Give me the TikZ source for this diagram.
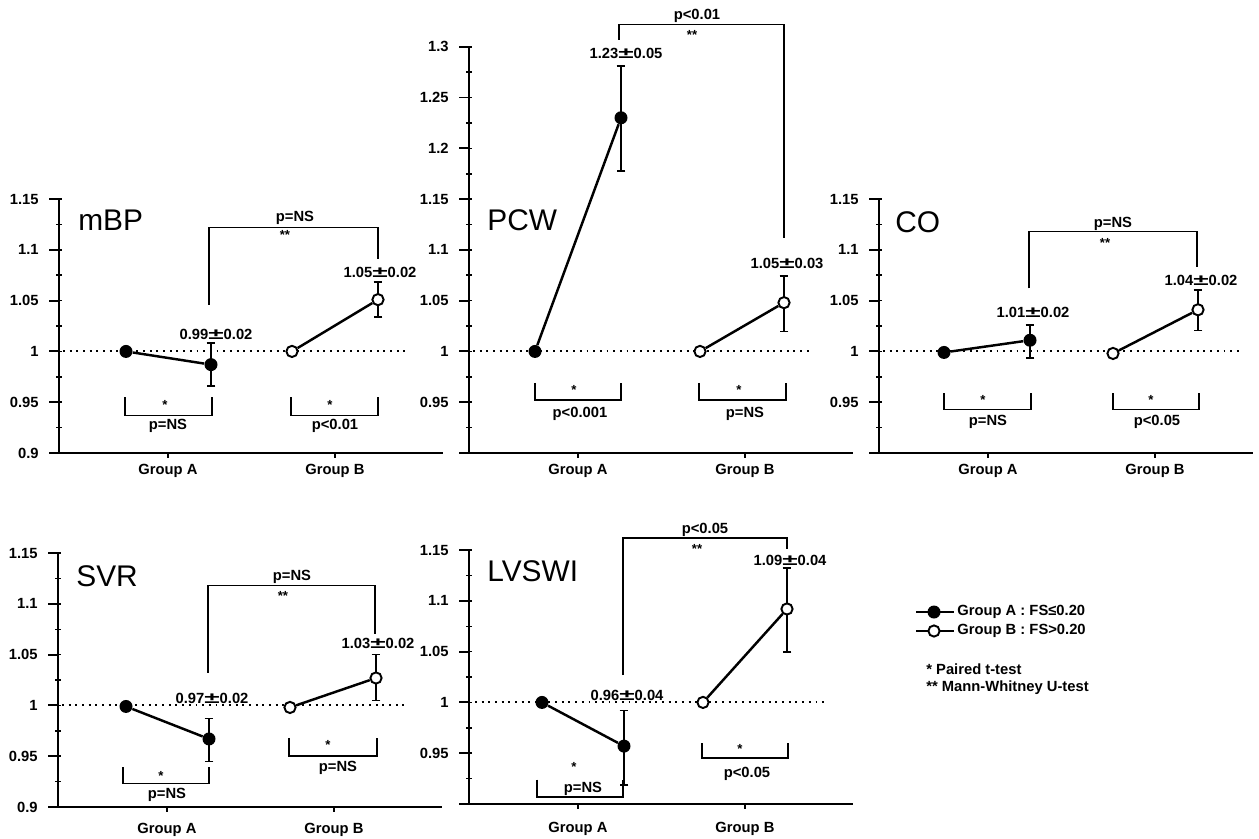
\documentclass[tikz,border=0pt]{standalone}
\usepackage{fontspec}
\setmainfont{Liberation Sans}
\usetikzlibrary{arrows.meta}

\newcommand{\pmwide}{\scalebox{1.9}[1.05]{±}}

% axes of one panel: #1 = number of minor steps, #2 = x-axis length, #3 = labelled values
\newcommand{\drawaxes}[3]{%
  \draw[axisline] (-10,0.9) -- (#2,0.9);
  \draw[axisline] (0,0.9) -- (0,0.9+0.025*#1);
  \foreach \k in {1,...,#1} \draw[minortick] (-3,0.9+0.025*\k) -- (3,0.9+0.025*\k);
  \foreach \v in {#3} {\draw[axisline] (-10,\v) -- (0,\v); \node[ticklbl] at (-20,\v) {\v};}
  \draw[axisline] (109,0.9) -- (109,0.895) (276,0.9) -- (276,0.895);
}

\tikzset{
  panel/.style={shift={#1}, y=20.32cm, yshift=-18.288cm},
  axisline/.style={line width=1.1pt},
  minortick/.style={line width=0.9pt},
  dataline/.style={line width=1.4pt},
  refline/.style={line width=1.1pt, dash pattern=on 1.1pt off 2.7pt},
  errbar/.style={line width=0.9pt, {Bar[width=5pt]}-{Bar[width=5pt]}},
  bracket/.style={line width=0.9pt},
  ptA/.style={circle, fill=black, inner sep=0pt, minimum size=7.4pt},
  ptB/.style={circle, draw=black, fill=white, line width=1.1pt, inner sep=0pt, minimum size=6.4pt},
  small/.style={font=\fontsize{8.4}{9}\selectfont\bfseries, inner sep=0pt},
  ticklbl/.style={small, anchor=east},
  stars/.style={font=\fontsize{7.5}{8}\selectfont\bfseries, inner sep=0pt},
  ptitle/.style={font=\fontsize{17}{19}\selectfont, inner sep=0pt, anchor=west}
}

\begin{document}
\begin{tikzpicture}[x=0.02cm, y=-0.02cm]
  \useasboundingbox (0,0) rectangle (1259,839);

  % mBP
  \begin{scope}[panel={(59,453)}]
    \drawaxes{10}{384}{0.9,0.95,1,1.05,1.1,1.15}
    \node[ptitle] at (19,1.129) {mBP};
    \node[small] at (109,0.882) {Group A};
    \node[small] at (276,0.882) {Group B};
    \draw[refline] (4,1) -- (350,1);
    \draw[errbar] (152,0.965) -- (152,1.009);
    \draw[errbar] (319,1.033) -- (319,1.069);
    \node[ptA] (mbpA1) at (67,1) {};
    \node[ptA] (mbpA2) at (152,0.987) {};
    \node[ptB] (mbpB1) at (233,1) {};
    \node[ptB] (mbpB2) at (319,1.051) {};
    \draw[dataline] (mbpA1) -- (mbpA2);
    \draw[dataline] (mbpB1) -- (mbpB2);
    \node[small] at (157,1.017) {0.99\pmwide0.02};
    \node[small] at (321,1.078) {1.05\pmwide0.02};
    \draw[bracket] (150,1.046) |- (319,1.122) -- (319,1.091);
    \node[small] at (236,1.131) {p=NS};
    \node[stars] at (226,1.115) {**};
    \draw[bracket] (66,0.955) |- (153,0.937) -- (153,0.955);
    \draw[bracket] (232,0.955) |- (319,0.937) -- (319,0.955);
    \node[stars] at (106,0.947) {*};
    \node[stars] at (271,0.947) {*};
    \node[small] at (109,0.927) {p=NS};
    \node[small] at (276,0.927) {p<0.01};
  \end{scope}

  % PCW
  \begin{scope}[panel={(469,453)}]
    \drawaxes{16}{384}{0.95,1,1.05,1.1,1.15,1.2,1.25,1.3}
    \node[ptitle] at (18,1.129) {PCW};
    \node[small] at (109,0.882) {Group A};
    \node[small] at (276,0.882) {Group B};
    \draw[refline] (4,1) -- (342,1);
    \draw[errbar] (152,1.177) -- (152,1.282);
    \draw[errbar] (315,1.019) -- (315,1.075);
    \node[ptA] (pcwA1) at (66,1) {};
    \node[ptA] (pcwA2) at (152,1.230) {};
    \node[ptB] (pcwB1) at (231,1) {};
    \node[ptB] (pcwB2) at (315,1.048) {};
    \draw[dataline] (pcwA1) -- (pcwA2);
    \draw[dataline] (pcwB1) -- (pcwB2);
    \node[small] at (157,1.293) {1.23\pmwide0.05};
    \node[small] at (318,1.087) {1.05\pmwide0.03};
    \draw[bracket] (150,1.307) |- (315,1.322) -- (315,1.112);
    \node[small] at (228,1.330) {p<0.01};
    \node[stars] at (223,1.312) {**};
    \draw[bracket] (66,0.969) |- (152,0.952) -- (152,0.969);
    \draw[bracket] (230,0.969) |- (317,0.952) -- (317,0.969);
    \node[stars] at (105,0.962) {*};
    \node[stars] at (270,0.962) {*};
    \node[small] at (111,0.939) {p<0.001};
    \node[small] at (276,0.939) {p=NS};
  \end{scope}

  % CO
  \begin{scope}[panel={(879,453)}]
    \drawaxes{10}{374}{0.95,1,1.05,1.1,1.15}
    \node[ptitle] at (16,1.127) {CO};
    \node[small] at (109,0.882) {Group A};
    \node[small] at (276,0.882) {Group B};
    \draw[refline] (4,1) -- (362,1);
    \draw[errbar] (151,0.993) -- (151,1.027);
    \draw[errbar] (319,1.020) -- (319,1.061);
    \node[ptA] (coA1) at (65,0.999) {};
    \node[ptA] (coA2) at (151,1.011) {};
    \node[ptB] (coB1) at (234,0.998) {};
    \node[ptB] (coB2) at (319,1.041) {};
    \draw[dataline] (coA1) -- (coA2);
    \draw[dataline] (coB1) -- (coB2);
    \node[small] at (154,1.038) {1.01\pmwide0.02};
    \node[small] at (322,1.070) {1.04\pmwide0.02};
    \draw[bracket] (150,1.062) |- (318,1.118) -- (318,1.083);
    \node[small] at (234,1.126) {p=NS};
    \node[stars] at (226,1.107) {**};
    \draw[bracket] (65,0.959) |- (152,0.943) -- (152,0.959);
    \draw[bracket] (234,0.959) |- (320,0.943) -- (320,0.959);
    \node[stars] at (104,0.952) {*};
    \node[stars] at (272,0.952) {*};
    \node[small] at (109,0.931) {p=NS};
    \node[small] at (278,0.931) {p<0.05};
  \end{scope}

  % SVR
  \begin{scope}[panel={(58,807)}]
    \drawaxes{10}{384}{0.9,0.95,1,1.05,1.1,1.15}
    \node[ptitle] at (18,1.127) {SVR};
    \node[small] at (109,0.877) {Group A};
    \node[small] at (276,0.877) {Group B};
    \draw[refline] (4,1) -- (346,1);
    \draw[errbar] (151,0.944) -- (151,0.988);
    \draw[errbar] (318,1.004) -- (318,1.051);
    \node[ptA] (svrA1) at (68,0.999) {};
    \node[ptA] (svrA2) at (151,0.967) {};
    \node[ptB] (svrB1) at (232,0.998) {};
    \node[ptB] (svrB2) at (318,1.027) {};
    \draw[dataline] (svrA1) -- (svrA2);
    \draw[dataline] (svrB1) -- (svrB2);
    \node[small] at (154,1.007) {0.97\pmwide0.02};
    \node[small] at (320,1.061) {1.03\pmwide0.02};
    \draw[bracket] (150,1.032) |- (317,1.118) -- (317,1.070);
    \node[small] at (234,1.127) {p=NS};
    \node[stars] at (225,1.108) {**};
    \draw[bracket] (65,0.939) |- (151,0.923) -- (151,0.939);
    \draw[bracket] (231,0.968) |- (319,0.950) -- (319,0.968);
    \node[stars] at (103,0.931) {*};
    \node[stars] at (270,0.961) {*};
    \node[small] at (109,0.912) {p=NS};
    \node[small] at (280,0.939) {p=NS};
  \end{scope}

  % LVSWI
  \begin{scope}[panel={(469,804)}]
    \drawaxes{10}{384}{0.95,1,1.05,1.1,1.15}
    \node[ptitle] at (18,1.129) {LVSWI};
    \node[small] at (109,0.876) {Group A};
    \node[small] at (276,0.876) {Group B};
    \draw[refline] (6,1) -- (356,1);
    \draw[errbar] (155,0.918) -- (155,0.993);
    \draw[errbar] (318,1.049) -- (318,1.133);
    \node[ptA] (lvA1) at (73,1) {};
    \node[ptA] (lvA2) at (155,0.957) {};
    \node[ptB] (lvB1) at (234,1) {};
    \node[ptB] (lvB2) at (318,1.092) {};
    \draw[dataline] (lvA1) -- (lvA2);
    \draw[dataline] (lvB1) -- (lvB2);
    \node[small] at (158,1.007) {0.96\pmwide0.04};
    \node[small] at (321,1.140) {1.09\pmwide0.04};
    \draw[bracket] (154,1.027) |- (318,1.162) -- (318,1.151);
    \node[small] at (236,1.170) {p<0.05};
    \node[stars] at (228,1.151) {**};
    \draw[bracket] (68,0.924) |- (154,0.907) -- (154,0.924);
    \draw[bracket] (233,0.960) |- (319,0.945) -- (319,0.960);
    \node[stars] at (105,0.936) {*};
    \node[stars] at (271,0.954) {*};
    \node[small] at (114,0.915) {p=NS};
    \node[small] at (278,0.930) {p<0.05};
  \end{scope}

  % legend
  \draw[dataline] (916,612) -- (954,612);
  \node[ptA] (legA) at (934,612) {};
  \node[small, anchor=west] at (957,612) {Group A : FS≤0.20};
  \draw[dataline] (916,631) -- (954,631);
  \node[ptB] (legB) at (934,631) {};
  \node[small, anchor=west] at (957,631) {Group B : FS>0.20};
  \node[small, anchor=west] at (926,669) {* Paired t-test};
  \node[small, anchor=west] at (926,688) {** Mann-Whitney U-test};
\end{tikzpicture}
\end{document}
